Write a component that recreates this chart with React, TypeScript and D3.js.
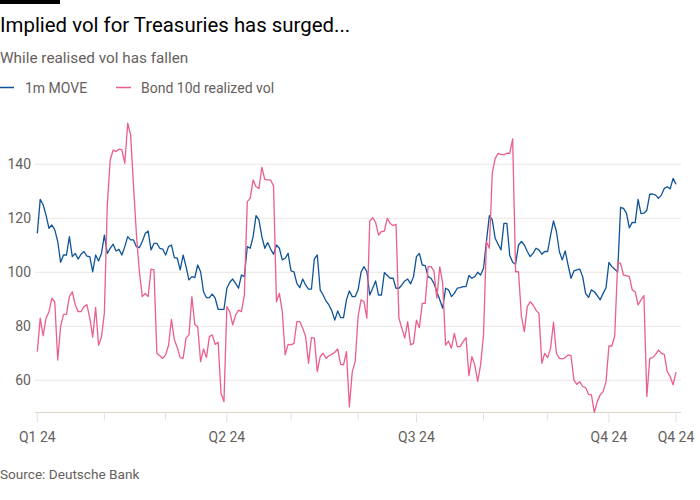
import React from "react";
import * as d3 from "d3";

const startDate = "2024-01-01";
const quarterLabelMonths = [0, 3, 6, 9];
const yTicks = [60, 80, 100, 120, 140];
const seriesNames = ["1m MOVE", "Bond 10d realized vol"];
const seriesColors = ["#0f5499", "#eb5e8d"];

const move1m = [
  114.4, 127, 125, 121.2, 116.3, 117.5, 115.7, 111.4, 103.7, 106.4,
  106.4, 113.2, 105.8, 107, 104.9, 106.7, 107.7, 106, 105.8, 100.2,
  106.4, 104.2, 107, 113.8, 107, 108.9, 110.4, 107.9, 108.5, 106.4,
  109.5, 113.2, 112, 112, 109.5, 109.1, 111.4, 114.4, 115.3, 108.3,
  110.7, 110.7, 108.9, 108.6, 106.4, 109.5, 110.1, 105.4, 105.2, 100.9,
  106.4, 102.1, 97.2, 98.4, 98, 102.7, 100.2, 92.8, 90.6, 90.6,
  91.9, 90.4, 86.3, 86.3, 86.3, 94.1, 96.3, 97.5, 95.9, 94.1,
  99, 98.4, 109.5, 108.9, 113.2, 121, 119.4, 113.2, 108.9, 111,
  108.6, 106.7, 110.1, 108.9, 104.6, 105.2, 107, 100.5, 100.2, 95.9,
  94.3, 97.5, 95.3, 93.8, 93.8, 105, 106.4, 93.5, 91.6, 89.4,
  87.9, 85.7, 82.3, 85.7, 83.2, 83.2, 89.8, 93.1, 91, 91,
  93.5, 100, 102.1, 100.2, 91.6, 94.1, 96.8, 91.6, 91.6, 99.9,
  98.8, 97.8, 97.8, 94.1, 94.1, 95.3, 96.8, 97.5, 95.7, 98.4,
  105.8, 107, 102.7, 102.5, 98.4, 97.8, 95.9, 92.8, 89.8, 86.7,
  94.1, 93.5, 91, 92.2, 94.1, 94.3, 94.7, 94.7, 98.8, 97.8,
  98.4, 100, 99, 101.5, 111.4, 121, 119.4, 112.6, 110.4, 108.3,
  118.1, 118.1, 106.2, 103.7, 103, 110.1, 111.4, 110.1, 107.7, 105.8,
  107, 108.9, 108.3, 106.7, 107.7, 107.7, 113.8, 119, 115.1, 107.7,
  104.6, 107.9, 102.7, 97.8, 100.5, 100.9, 101.2, 98.4, 92.2, 90.7,
  93.5, 92.8, 91.4, 89.8, 92.2, 94.3, 103.7, 102.1, 101.1, 100.2,
  124, 123.7, 121.9, 116.5, 118.5, 118.4, 127, 121.7, 121.9, 123,
  128.9, 129, 128.6, 127.4, 128.6, 131.1, 131.7, 130.9, 134.8, 132.6,
];

const bond10d = [
  70.6, 83, 76.5, 83, 85.4, 90.4, 89, 67.5, 80, 84.4,
  84.4, 91, 92.8, 88, 85.4, 85.4, 87.3, 88, 83, 76,
  87, 73, 76, 85, 125, 141.6, 145.3, 144.7, 145.6, 145.3,
  140.4, 155.2, 150.9, 132, 113.8, 100.2, 91, 92.2, 91, 101.2,
  100.9, 70, 69.1, 68.1, 69.4, 73, 82.6, 75, 72.1, 68.4,
  68.1, 75.6, 76.8, 91, 80.7, 79.9, 66.9, 71.6, 68.4, 76.2,
  76.8, 73.3, 74.1, 55.2, 52.1, 87.3, 85.4, 80.5, 84.2, 86,
  85.4, 91.6, 126.2, 127.4, 134.2, 131.7, 131.1, 138.9, 134.4, 134.2,
  134.2, 132, 89.1, 92.2, 85.4, 69.4, 73.3, 73.1, 73.7, 81.7,
  81.7, 79.3, 76.2, 66.3, 75.8, 75.6, 63.2, 68.8, 70, 68.1,
  69.1, 69.6, 70.4, 71.6, 65.9, 65.7, 70.6, 50.2, 63.2, 66.9,
  83.6, 89.8, 89.1, 83, 119, 120.2, 118.5, 113.8, 115.1, 115.3,
  120, 118.1, 117.3, 117.8, 83, 79.3, 75.6, 81.7, 73.1, 73.7,
  82.3, 79.5, 88.5, 88.5, 102.1, 102.1, 100.5, 90.4, 102, 96,
  73, 74.5, 71.9, 77.4, 72.5, 72.5, 74.3, 75.8, 61.7, 68.8,
  65.7, 59.6, 65.7, 76.8, 111.4, 108.9, 136.7, 142.2, 144, 143.7,
  143.5, 144.1, 144.1, 149.4, 100.2, 100.2, 83.6, 78, 87.3, 89.1,
  87.9, 86, 84.8, 66.3, 70, 68.4, 71.9, 81.5, 70, 68.1,
  67.9, 68.4, 69.4, 69.1, 60.1, 58.5, 59.5, 57.7, 57.3, 54.8,
  54.6, 48.1, 52.1, 54.6, 55.8, 59.5, 72.7, 72.7, 76.5, 103.7,
  103.3, 99, 98.8, 98.4, 93.5, 92.8, 87.9, 89.8, 91.4, 54,
  68.1, 68.4, 69.6, 71.2, 70, 69.6, 63.2, 61.4, 58.3, 63,
];

// business-day calendar for the series
function weekdays(start: string, n: number): Date[] {
  const out: Date[] = [];
  const d = new Date(start + "T00:00:00");
  while (out.length < n) {
    const wd = d.getDay();
    if (wd !== 0 && wd !== 6) out.push(new Date(d));
    d.setDate(d.getDate() + 1);
  }
  return out;
}

const FONT = "Roboto, 'Noto Sans', sans-serif";

export default function App() {
  const W = 700;
  const H = 500;
  const n = move1m.length;
  const dates = weekdays(startDate, n);

  const x = d3.scaleLinear().domain([0, n - 1]).range([37.3, 676]);
  const y = d3.scaleLinear().domain([60, 140]).range([380.3, 164.3]);
  const axisY = 412.5;
  const gridX0 = 35;
  const gridX1 = 681;

  // month ticks: first business day of each month + final date
  const tickIdx: number[] = [];
  dates.forEach((d, i) => {
    if (i === 0 || d.getMonth() !== dates[i - 1].getMonth()) tickIdx.push(i);
  });
  if (tickIdx[tickIdx.length - 1] !== n - 1) tickIdx.push(n - 1);
  const isLabelled = (i: number) =>
    i === n - 1 || quarterLabelMonths.includes(dates[i].getMonth());
  const qLabel = (d: Date) =>
    `Q${Math.floor(d.getMonth() / 3) + 1} ${String(d.getFullYear()).slice(2)}`;

  const line = d3
    .line<number>()
    .x((_, i) => x(i))
    .y((v) => y(v));

  const series = [move1m, bond10d];

  return (
    <svg
      width={W}
      height={H}
      style={{ position: "absolute", left: 0, top: 0, background: "#fff" }}
      fontFamily={FONT}
    >
      <rect x={0} y={0} width={60} height={4} fill="#000" />
      <text x={0} y={32} fontSize={20.4} fill="#000">
        Implied vol for Treasuries has surged...
      </text>
      <text x={0} y={62.5} fontSize={15.3} fill="#66605c">
        While realised vol has fallen
      </text>

      {/* legend */}
      <g>
        <line x1={0} x2={14} y1={87.5} y2={87.5} stroke={seriesColors[0]} strokeWidth={1.5} />
        <text x={25} y={93} fontSize={14} fill="#66605c">{seriesNames[0]}</text>
        <line x1={116} x2={131} y1={87.5} y2={87.5} stroke={seriesColors[1]} strokeWidth={1.5} />
        <text x={141} y={93} fontSize={14} fill="#66605c">{seriesNames[1]}</text>
      </g>

      {/* grid */}
      {yTicks.map((t) => (
        <g key={t}>
          <line x1={gridX0} x2={gridX1} y1={y(t)} y2={y(t)} stroke="#ede6e1" strokeWidth={1} />
          <text x={31} y={y(t)} dy="0.35em" textAnchor="end" fontSize={14} fill="#66605c">
            {t}
          </text>
        </g>
      ))}

      {/* x axis */}
      <line x1={gridX0} x2={gridX1} y1={axisY} y2={axisY} stroke="#ddd4cc" strokeWidth={1} />
      {tickIdx.map((i) => (
        <g key={i}>
          <line
            x1={x(i)}
            x2={x(i)}
            y1={axisY}
            y2={axisY + (isLabelled(i) ? 10 : 8)}
            stroke="#e6ded8"
            strokeWidth={1}
          />
          {isLabelled(i) && (
            <text x={x(i)} y={442} textAnchor="middle" fontSize={14} fill="#66605c">
              {qLabel(dates[i])}
            </text>
          )}
        </g>
      ))}

      {/* lines */}
      {series.map((s, k) => (
        <path
          key={k}
          d={line(s) || ""}
          fill="none"
          stroke={seriesColors[k]}
          strokeWidth={1.3}
          strokeLinejoin="round"
        />
      ))}

      <text x={0} y={479} fontSize={13.6} fill="#66605c">
        Source: Deutsche Bank
      </text>
    </svg>
  );
}
